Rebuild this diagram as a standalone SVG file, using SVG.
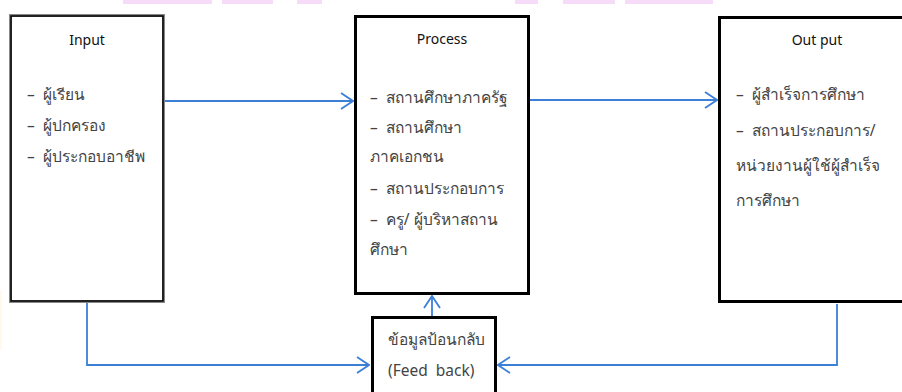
<svg xmlns="http://www.w3.org/2000/svg" width="902" height="392" viewBox="0 0 902 392">
<style>
.title{font-family:"Noto Sans","Liberation Sans",sans-serif;font-size:14px;fill:#111;text-anchor:middle}
.item{font-family:"Noto Sans","Liberation Sans",sans-serif;font-size:15.5px;fill:#444}
.box{fill:#fff;stroke:#000;stroke-width:3}
.conn{fill:none;stroke:#3b7fd6;stroke-width:1.8}
.pink{fill:#f6dcf8}
</style>
<defs>
<marker id="arr" viewBox="0 0 14 18" refX="13" refY="9" markerWidth="14" markerHeight="18" markerUnits="userSpaceOnUse" orient="auto">
<path d="M1,1 L13,9 L1,17" fill="none" stroke="#3b7fd6" stroke-width="1.8"/>
</marker>
</defs>
<rect width="902" height="392" fill="#fff"/>
<g id="decor">
<rect class="pink" x="123" y="0" width="89" height="4"/>
<rect class="pink" x="222" y="0" width="51" height="4"/>
<rect class="pink" x="297" y="0" width="25" height="4"/>
<rect class="pink" x="515" y="0" width="23" height="4"/>
<rect class="pink" x="563" y="0" width="52" height="4"/>
<rect class="pink" x="625" y="0" width="88" height="4"/>
<rect x="0" y="290" width="2" height="60" fill="#fffaec"/>
</g>
<g id="connectors">
<line class="conn" x1="164" y1="101" x2="353" y2="101" marker-end="url(#arr)"/>
<line class="conn" x1="524" y1="100" x2="717" y2="100" marker-end="url(#arr)"/>
<polyline class="conn" points="87,302 87,365 369,365" marker-end="url(#arr)"/>
<polyline class="conn" points="837,304 837,365 498,365" marker-end="url(#arr)"/>
<line class="conn" x1="432" y1="316" x2="432" y2="296" marker-end="url(#arr)"/>
</g>
<g id="input">
<rect x="10.5" y="15.5" width="153" height="286" fill="#fff" stroke="#888" stroke-width="3"/>
<rect x="11" y="16" width="152" height="285" fill="none" stroke="#000" stroke-width="1.5"/>
<text class="title" x="87" y="45">Input</text>
<text class="item" x="27" y="100" xml:space="preserve">–  ผู้เรียน</text>
<text class="item" x="27" y="131" xml:space="preserve">–  ผู้ปกครอง</text>
<text class="item" x="27" y="162" xml:space="preserve">–  ผู้ประกอบอาชีพ</text>
</g>
<g id="process">
<rect class="box" x="355.5" y="16.5" width="173" height="277"/>
<text class="title" x="442" y="44">Process</text>
<text class="item" x="370" y="103" xml:space="preserve">–  สถานศึกษาภาครัฐ</text>
<text class="item" x="370" y="133" xml:space="preserve">–  สถานศึกษา</text>
<text class="item" x="370" y="162">ภาคเอกชน</text>
<text class="item" x="370" y="194" xml:space="preserve">–  สถานประกอบการ</text>
<text class="item" x="370" y="225" xml:space="preserve">–  ครู/ ผู้บริหาสถาน</text>
<text class="item" x="370" y="255">ศึกษา</text>
</g>
<g id="output">
<rect class="box" x="719.5" y="17.5" width="190" height="284"/>
<text class="title" x="817" y="45">Out put</text>
<text class="item" x="736" y="100" xml:space="preserve">–  ผู้สำเร็จการศึกษา</text>
<text class="item" x="736" y="136" xml:space="preserve">–  สถานประกอบการ/</text>
<text class="item" x="736" y="171">หน่วยงานผู้ใช้ผู้สำเร็จ</text>
<text class="item" x="736" y="206">การศึกษา</text>
</g>
<g id="feedback">
<rect class="box" x="372.5" y="317.5" width="123" height="90"/>
<text class="item" x="388" y="345">ข้อมูลป้อนกลับ</text>
<text class="item" x="388" y="376" xml:space="preserve">(Feed  back)</text>
</g>
</svg>
